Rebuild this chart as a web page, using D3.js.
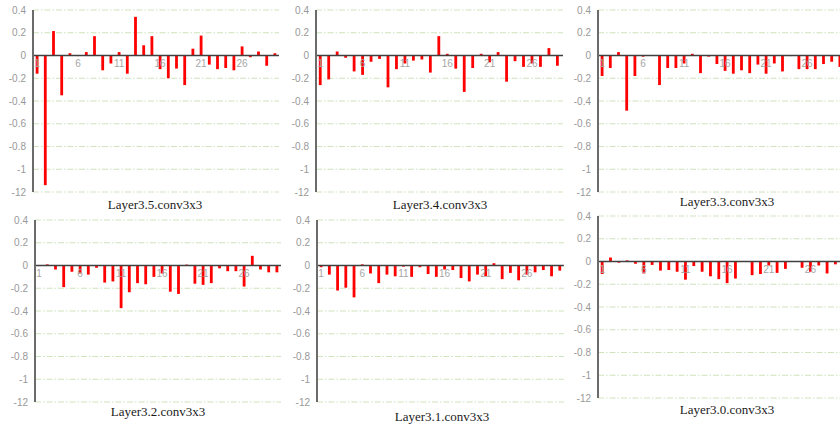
<!DOCTYPE html>
<html>
<head>
<meta charset="utf-8">
<script src="https://cdn.jsdelivr.net/npm/d3@7"></script>
<style>
  body { margin: 0; background: #fff; }
  text { font-family: "Liberation Sans", Arial, sans-serif; }
</style>
</head>
<body>
<svg width="840" height="425"></svg>
<script>
// channel index 1..30 for each block
var channels = [1,2,3,4,5,6,7,8,9,10,11,12,13,14,15,16,17,18,19,20,21,22,23,24,25,26,27,28,29,30];
var xTickLabels = [1, 6, 11, 16, 21, 26];
var yTicks = [0.4, 0.2, 0, -0.2, -0.4, -0.6, -0.8, -1, -1.2];
var yTickLabels = ["0.4", "0.2", "0", "-0.2", "-0.4", "-0.6", "-0.8", "-1", "-12"];

var layer35 = [-0.16, -1.14, 0.215, -0.35, 0.02, -0.005, 0.03, 0.17, -0.13, -0.07,
               0.03, -0.16, 0.34, 0.09, 0.17, -0.12, -0.2, -0.115, -0.26, 0.06,
               0.175, -0.08, -0.12, -0.11, -0.13, 0.08, -0.015, 0.035, -0.09, 0.02];
var layer34 = [-0.26, -0.21, 0.035, -0.02, -0.14, -0.17, -0.055, -0.03, -0.28, -0.12,
               -0.07, -0.045, -0.035, -0.15, 0.17, 0.015, -0.115, -0.32, -0.11, 0.015,
               -0.06, 0.03, -0.23, -0.05, -0.1, -0.07, -0.1, 0.065, -0.09, -0.05];
var layer33 = [-0.18, -0.11, 0.03, -0.485, -0.18, -0.01, -0.003, -0.26, -0.11, -0.11,
               -0.07, 0.015, -0.155, -0.01, -0.075, -0.135, -0.16, -0.13, -0.155, -0.08,
               -0.16, -0.07, -0.14, -0.005, -0.12, -0.12, -0.12, -0.075, -0.055, -0.1];
var layer32 = [-0.005, 0.01, -0.035, -0.19, -0.055, -0.07, -0.08, -0.02, -0.15, -0.14,
               -0.375, -0.235, -0.155, -0.165, -0.1, -0.07, -0.23, -0.25, 0.008, -0.16,
               -0.17, -0.155, -0.025, -0.05, -0.05, -0.185, 0.085, -0.035, -0.06, -0.06];
var layer31 = [-0.015, -0.08, -0.22, -0.195, -0.28, 0.01, -0.07, -0.155, -0.08, -0.095,
               -0.01, -0.1, -0.015, -0.075, -0.1, -0.035, -0.04, -0.11, -0.14, -0.08,
               -0.095, 0.02, -0.12, -0.065, -0.13, -0.08, -0.06, -0.04, -0.095, -0.045];
var layer30 = [-0.11, 0.035, -0.01, 0.01, -0.02, -0.105, -0.03, -0.08, -0.075, -0.09,
               -0.16, -0.04, -0.09, -0.13, -0.155, -0.19, -0.15, -0.003, -0.12, -0.11,
               -0.035, -0.1, -0.065, -0.002, -0.055, -0.09, -0.035, -0.105, -0.025, -0.05];

var panels = [
  {title: "Layer3.5.conv3x3", values: layer35, left: 33,  top: 10,  bw: 8.2,  clipL: 0,   clipR: 281, tx: 155, ty: 209},
  {title: "Layer3.4.conv3x3", values: layer34, left: 316, top: 10,  bw: 8.47, clipL: 283, clipR: 563, tx: 440, ty: 209},
  {title: "Layer3.3.conv3x3", values: layer33, left: 598, top: 10,  bw: 8.2,  clipL: 565, clipR: 840, tx: 727, ty: 206},
  {title: "Layer3.2.conv3x3", values: layer32, left: 35,  top: 220, bw: 8.2,  clipL: 0,   clipR: 281, tx: 158, ty: 416},
  {title: "Layer3.1.conv3x3", values: layer31, left: 317, top: 220, bw: 8.23, clipL: 283, clipR: 565, tx: 442, ty: 421},
  {title: "Layer3.0.conv3x3", values: layer30, left: 598, top: 216, bw: 8.33, clipL: 565, clipR: 840, tx: 727, ty: 414}
];

var svg = d3.select("svg");
var plotH = 182;

panels.forEach(function(p, i) {
  var x = d3.scaleBand()
      .domain(channels)
      .range([p.left, p.left + channels.length * p.bw]);
  var y = d3.scaleLinear()
      .domain([-1.2, 0.4])
      .range([p.top + plotH, p.top]);

  svg.append("clipPath")
      .attr("id", "clip" + i)
    .append("rect")
      .attr("x", p.clipL)
      .attr("y", p.top - 12)
      .attr("width", p.clipR - p.clipL)
      .attr("height", plotH + 40);

  var g = svg.append("g")
      .attr("clip-path", "url(#clip" + i + ")");

  // gridlines
  g.append("g")
    .selectAll("line")
    .data(yTicks.filter(function(d) { return d !== 0; }))
    .enter().append("line")
      .attr("x1", p.left)
      .attr("x2", x.range()[1])
      .attr("y1", function(d) { return y(d); })
      .attr("y2", function(d) { return y(d); })
      .attr("stroke", "#cfe3bd")
      .attr("stroke-width", 1)
      .attr("stroke-dasharray", "6,2,1.5,2");

  // bars
  g.append("g")
    .selectAll("rect")
    .data(p.values)
    .enter().append("rect")
      .attr("x", function(d, j) { return x(channels[j]) + x.bandwidth() / 2 - 1.4; })
      .attr("width", 2.8)
      .attr("y", function(d) { return y(Math.max(0, d)); })
      .attr("height", function(d) { return Math.abs(y(d) - y(0)); })
      .attr("fill", "#ff0000");

  // zero line
  g.append("line")
      .attr("x1", p.left)
      .attr("x2", x.range()[1])
      .attr("y1", y(0))
      .attr("y2", y(0))
      .attr("stroke", "#404040")
      .attr("stroke-width", 1.5);

  // x labels along the zero line
  var xAxis = g.append("g")
      .attr("transform", "translate(0," + y(0) + ")")
      .call(d3.axisBottom(x).tickValues(xTickLabels).tickSize(0).tickPadding(4));
  xAxis.select(".domain").remove();
  xAxis.selectAll("text")
      .attr("fill", "#a6a6a6")
      .style("font-size", "10px");

  // y axis labels
  var yAxis = g.append("g")
      .attr("transform", "translate(" + p.left + ",0)")
      .call(d3.axisLeft(y).tickValues(yTicks)
        .tickFormat(function(d, j) { return yTickLabels[j]; })
        .tickSize(0).tickPadding(7));
  yAxis.select(".domain").remove();
  yAxis.selectAll("text")
      .attr("fill", "#999999")
      .style("font-size", "10px");

  // y axis line
  g.append("line")
      .attr("x1", p.left)
      .attr("x2", p.left)
      .attr("y1", y(0.4))
      .attr("y2", y(-1.2))
      .attr("stroke", "#6b6b6b")
      .attr("stroke-width", 2);

  svg.append("text")
      .attr("x", p.tx)
      .attr("y", p.ty)
      .attr("text-anchor", "middle")
      .attr("fill", "#1a1a1a")
      .style("font-family", "'Liberation Serif', 'Times New Roman', serif")
      .style("font-size", "13px")
      .text(p.title);
});
</script>
</body>
</html>
